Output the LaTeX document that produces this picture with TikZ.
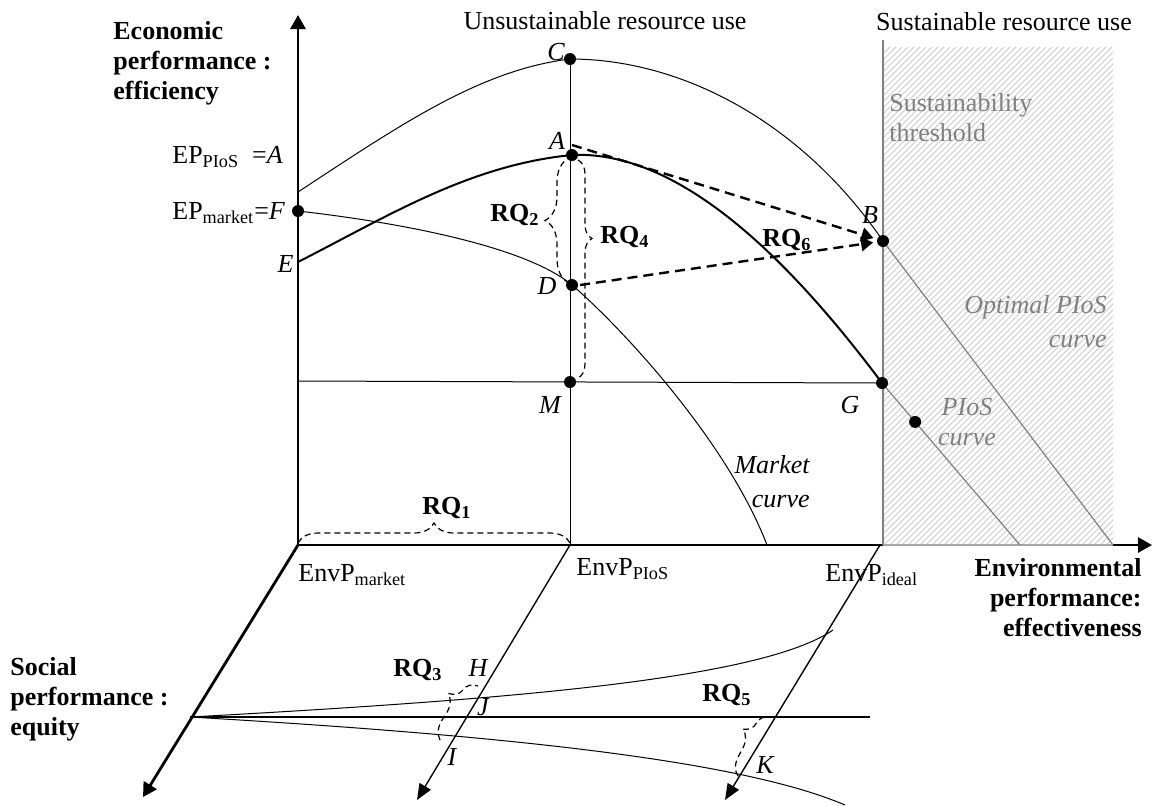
\documentclass[tikz,border=0pt]{standalone}
\usepackage{fontspec}
\setmainfont{Liberation Serif}
\usetikzlibrary{arrows.meta,decorations.pathreplacing,patterns,calc}

\tikzset{
  pt/.style={circle,fill=black,inner sep=0pt,minimum size=6pt},
  mainaxis/.style={line width=1.4pt,-{Triangle[length=7pt,width=7.5pt]}},
  subaxis/.style={line width=0.7pt,-{Triangle[length=8pt,width=6.5pt]}},
  fine/.style={line width=0.5pt},
  greyline/.style={line width=0.6pt,gray},
  rqarrow/.style={line width=1.2pt,dash pattern=on 5pt off 3pt,shorten >=5pt,-{Triangle[length=6pt,width=7pt]}},
  rqbrace/.style={decorate,line width=0.6pt,dash pattern=on 3pt off 2pt},
  rq/.style={font=\bfseries},
  greytext/.style={text=gray}
}

\begin{document}
\fontsize{13}{15}\selectfont
\begin{tikzpicture}[x=0.5pt,y=-0.5pt]
  \useasboundingbox (0,0) rectangle (1154,805);

  % sustainable zone
  \fill[pattern=north east lines,pattern color=gray!40] (883,47) rectangle (1113,545);

  % axes
  \coordinate (O) at (298,545);
  \coordinate (EPtop) at (298,15);
  \coordinate (EnvPend) at (1152,545);
  \coordinate (SPend) at (143,797);
  \draw[mainaxis] (O) -- (EPtop);
  \draw[mainaxis] (O) -- (EnvPend);
  \draw[mainaxis] (O) -- (SPend);
  \draw[gray!70,line width=1.4pt] (883,545) -- (1113,545);
  \draw[gray,line width=1pt] (883,40) -- (883,545);

  % points
  \coordinate (C) at (570,59);
  \coordinate (A) at (572,155);
  \coordinate (D) at (572,285);
  \coordinate (M) at (570,382);
  \coordinate (B) at (883,241);
  \coordinate (G) at (882,383);
  \coordinate (F) at (298,211);
  \coordinate (E) at (298,262);
  \coordinate (Cstart) at (298,192);
  \coordinate (PIoS) at (570,545);
  \coordinate (ideal) at (880,545);
  \coordinate (Mleft) at (298,381);
  \coordinate (OptEnd) at (1113,545);
  \coordinate (PIoSend) at (1020,545);
  \coordinate (MktEnd) at (767,545);
  \coordinate (Q) at ($(G)!0.24!(PIoSend)$);

  % curves
  \draw[fine] (Cstart) .. controls (400,125) and (480,70) .. (C)
    .. controls (680,59) and (800,120) .. (B);
  \draw[greyline] (B) -- (OptEnd);
  \draw[line width=1pt] (E) .. controls (390,215) and (470,165) .. (A)
    .. controls (680,150) and (790,260) .. (G);
  \draw[greyline] (G) -- (PIoSend);
  \draw[fine] (F) .. controls (420,225) and (530,250) .. (D)
    .. controls (622,328) and (727,441) .. (MktEnd);
  \draw[fine] (C) -- (PIoS);
  \draw[fine] (Mleft) -- (G);

  % moves towards B
  \draw[rqarrow] ([yshift=5pt]A) -- (B);
  \draw[rqarrow] ([xshift=4pt]D) -- (B);

  % social plane
  \coordinate (S) at (190,717);
  \coordinate (Send) at (870,717);
  \coordinate (PIoSdown) at (417,800);
  \coordinate (idealdown) at (725,800);
  \draw[subaxis] (PIoS) -- (PIoSdown);
  \draw[subaxis] (ideal) -- (idealdown);
  \draw[line width=0.8pt] (S) -- (Send);
  \draw[fine] (S) .. controls (500,700) and (760,680) .. (833,630);
  \draw[fine] (S) .. controls (500,735) and (740,760) .. (845,805);

  % dots
  \foreach \p in {C,A,D,M,B,G,F,Q}
    \node[pt] (\p dot) at (\p) {};

  % research questions
  \draw[rqbrace,decoration={brace,amplitude=10pt}] (298,543) -- (570,543);
  \draw[rqbrace,decoration={brace,amplitude=12pt}] (569,283) -- (569,158);
  \draw[rqbrace,decoration={brace,amplitude=7pt,aspect=0.36}] (578,160) -- (578,378);
  \draw[rqbrace,decoration={brace,amplitude=10pt,aspect=0.65}] (440,740) -- (478,686);
  \draw[rqbrace,decoration={brace,amplitude=9pt,aspect=0.65}] (738,776) -- (770,717);
  \node[rq] (rq1) at (447,508) {RQ\textsubscript{1}};
  \node[rq] (rq2) at (515,215) {RQ\textsubscript{2}};
  \node[rq] (rq3) at (418,670) {RQ\textsubscript{3}};
  \node[rq] (rq4) at (625,237) {RQ\textsubscript{4}};
  \node[rq] (rq5) at (727,695) {RQ\textsubscript{5}};
  \node[rq] (rq6) at (787,240) {RQ\textsubscript{6}};

  % point labels
  \node[font=\itshape] (Clbl) at (556,52) {C};
  \node[font=\itshape] (Albl) at (557,141) {A};
  \node[font=\itshape] (Dlbl) at (547,286) {D};
  \node[font=\itshape] (Mlbl) at (550,405) {M};
  \node[font=\itshape] (Blbl) at (870,215) {B};
  \node[font=\itshape] (Glbl) at (850,405) {G};
  \node[font=\itshape,anchor=east,inner sep=0pt] (Elbl) at (294,264) {E};
  \node[font=\itshape] (Hlbl) at (478,668) {H};
  \node[font=\itshape] (Jlbl) at (483,707) {J};
  \node[font=\itshape] (Ilbl) at (452,757) {I};
  \node[font=\itshape] (Klbl) at (765,765) {K};
  \node[anchor=west,inner sep=0pt] (EPpios) at (172,157) {EP\textsubscript{PIoS}\enspace=\textit{A}};
  \node[anchor=west,inner sep=0pt] (EPmkt) at (172,213) {EP\textsubscript{market}=\textit{F}};

  % axis labels
  \node[rq,anchor=west,align=left,inner sep=0pt] (EPaxis) at (113,63) {Economic\\performance :\\efficiency};
  \node[rq,anchor=east,align=right,inner sep=0pt] (Envaxis) at (1142,598) {Environmental\\performance:\\effectiveness};
  \node[rq,anchor=west,align=left,inner sep=0pt] (SPaxis) at (10,699) {Social\\performance :\\equity};
  \node[anchor=west,inner sep=0pt] (EnvPmkt) at (298,575) {EnvP\textsubscript{market}};
  \node[anchor=west,inner sep=0pt] (EnvPpios) at (576,569) {EnvP\textsubscript{PIoS}};
  \node[anchor=west,inner sep=0pt] (EnvPideal) at (825,575) {EnvP\textsubscript{ideal}};

  % zones and curves
  \node (unsus) at (605,21) {Unsustainable resource use};
  \node (sus) at (1004,22) {Sustainable resource use};
  \node[greytext,anchor=west,align=left,inner sep=0pt] (thresh) at (889,118) {Sustainability\\threshold};
  \node[greytext,font=\itshape,anchor=east,align=right,inner sep=0pt] (optlbl) at (1107,322) {Optimal PIoS\\[2pt]curve};
  \node[greytext,font=\itshape,align=center,inner sep=0pt] (pioslbl) at (967,422) {PIoS\\curve};
  \node[font=\itshape,anchor=east,align=right,inner sep=0pt] (mktlbl) at (810,482) {Market\\[2pt]curve};
\end{tikzpicture}
\end{document}
